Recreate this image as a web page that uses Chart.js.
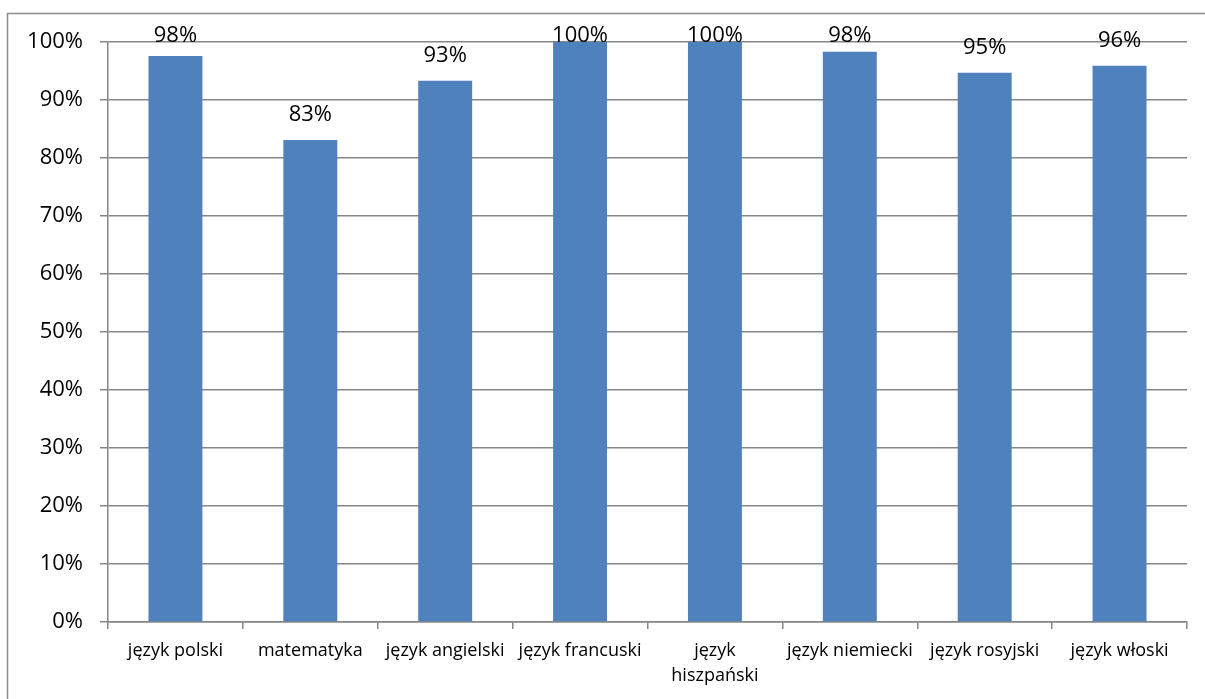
<!DOCTYPE html>
<html>
<head>
<meta charset="utf-8">
<script src="https://cdn.jsdelivr.net/npm/chart.js@4"></script>
<style>
  html, body { margin: 0; padding: 0; background: #fff; }
  #wrap { width: 1205px; height: 699px; position: relative; }
</style>
</head>
<body>
<div id="wrap"><canvas id="chart" width="1205" height="699"></canvas></div>
<script>
// Subjects and pass rates (fraction)
const subjects = ['język polski', 'matematyka', 'język angielski', 'język francuski',
                  ['język', 'hiszpański'], 'język niemiecki', 'język rosyjski', 'język włoski'];
const passRates = [0.976, 0.831, 0.933, 1.0, 1.0, 0.983, 0.947, 0.959];
const yTicks = [0, 0.1, 0.2, 0.3, 0.4, 0.5, 0.6, 0.7, 0.8, 0.9, 1.0];

const FONT = '"Open Sans", sans-serif';
const GRID = '#868686';

// Outer frame (only left and top edges are visible in the picture)
const framePlugin = {
    id: 'frame',
    beforeDraw(chart) {
        const ctx = chart.ctx;
        ctx.save();
        ctx.strokeStyle = '#8c8c8c';
        ctx.lineWidth = 1.5;
        ctx.strokeRect(7.5, 13.5, 1220, 720);
        ctx.restore();
    }
};

// Value labels above bars, kept inside the top of the plot
const valueLabels = {
    id: 'valueLabels',
    afterDatasetsDraw(chart) {
        const ctx = chart.ctx;
        const meta = chart.getDatasetMeta(0);
        const top = chart.chartArea.top;
        ctx.save();
        ctx.font = '22px ' + FONT;
        ctx.fillStyle = '#000';
        ctx.textAlign = 'center';
        ctx.textBaseline = 'alphabetic';
        meta.data.forEach((bar, i) => {
            const y = Math.max(bar.y - 19, top);
            ctx.fillText(Math.round(passRates[i] * 100) + '%', bar.x, y);
        });
        ctx.restore();
    }
};

new Chart(document.getElementById('chart'), {
    type: 'bar',
    data: {
        labels: subjects,
        datasets: [{
            data: passRates,
            backgroundColor: '#4F81BD',
            borderWidth: 0,
            barPercentage: 0.4,
            categoryPercentage: 1.0
        }]
    },
    options: {
        responsive: false,
        animation: false,
        layout: { padding: { top: 42, right: 18, left: 0, bottom: 0 } },
        plugins: {
            legend: { display: false },
            tooltip: { enabled: false }
        },
        scales: {
            y: {
                min: 0,
                max: 1,
                afterFit(scale) { scale.width = 108; },
                afterBuildTicks(scale) { scale.ticks = yTicks.map(v => ({ value: v })); },
                grid: { color: GRID, lineWidth: 1.5, tickLength: 8 },
                border: { color: GRID, width: 1.5 },
                ticks: {
                    padding: 17,
                    color: '#000',
                    font: { family: FONT, size: 22 },
                    callback: v => Math.round(v * 100) + '%'
                }
            },
            x: {
                afterFit(scale) { scale.height = 77; },
                grid: { drawOnChartArea: false, color: GRID, lineWidth: 1.5, tickLength: 7, offset: true },
                border: { color: GRID, width: 1.5 },
                ticks: {
                    padding: 10,
                    color: '#000',
                    autoSkip: false,
                    maxRotation: 0,
                    font: { family: FONT, size: 18, lineHeight: 1.35 }
                }
            }
        }
    },
    plugins: [framePlugin, valueLabels]
});
</script>
</body>
</html>
